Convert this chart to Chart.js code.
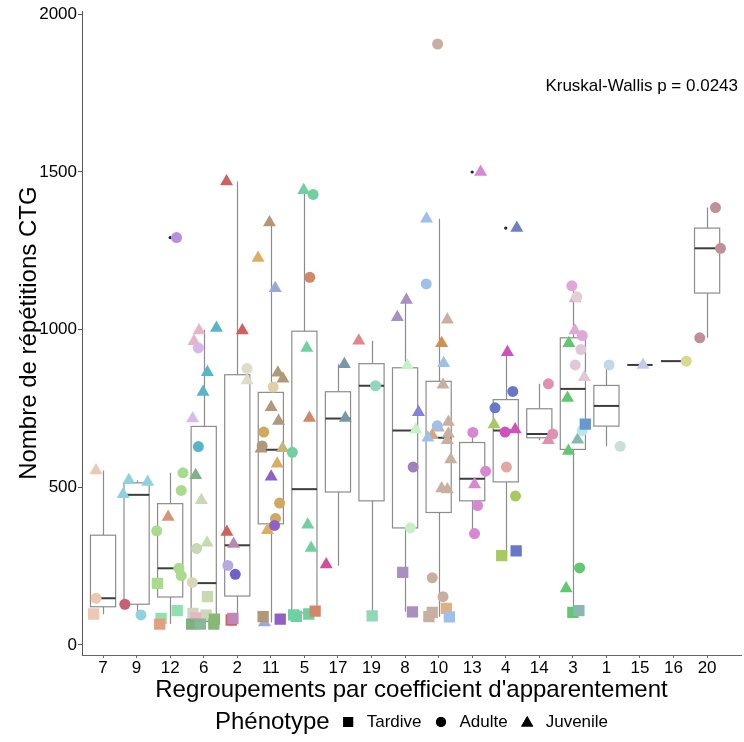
<!DOCTYPE html>
<html lang="fr">
<head>
<meta charset="UTF-8">
<title>Répétitions CTG par regroupement</title>
<script src="https://cdn.jsdelivr.net/npm/chart.js"></script>
<style>
  body { margin: 0; background: #fff; }
  canvas { display: block; }
</style>
</head>
<body>
<canvas id="ctgChart" width="744" height="742"></canvas>
<script>
// groupes (ordre de l'axe x) et graduations
const categories = ['7', '9', '12', '6', '2', '11', '5', '17', '19', '8', '10', '13', '4', '14', '3', '1', '15', '16', '20'];
const yTicks = [0, 500, 1000, 1500, 2000];

// statistiques des boîtes, une valeur par groupe
const boxLow    = [97,  95,  66,  66,  79,   71,   91,   251, 92,  105,  89,   353, 283, 649, 103,  630, 888, 900, 974];
const boxQ1     = [121, 129, 152, 74,  155,  384,  102,  485, 457, 371,  420,  457, 517, 657, 620,  694, 888, 900, 1116];
const boxMedian = [148, 476, 243, 196, 316,  619,  494,  718, 822, 680,  657,  527, 680, 669, 812,  758, 888, 900, 1258];
const boxQ3     = [348, 514, 448, 693, 857,  801,  995,  803, 892, 879,  836,  642, 778, 749, 974,  823, 888, 900, 1322];
const boxHigh   = [553, 522, 546, 1000, 1470, 1340, 1442, 890, 965, 1094, 1352, 668, 928, 828, 1139, 888, 888, 900, 1387];

// valeurs aberrantes
const outlierGroups = ['12', '10', '13', '4'];
const outlierValues = [1292, 1906, 1500, 1322];

// Tardive
const tardiveGroups = ['7', '12', '12', '12', '12', '6', '6', '6', '6', '6', '6', '6', '6', '2', '2', '11', '11',
  '5', '5', '5', '5', '19', '8', '8', '10', '10', '10', '10', '4', '4', '3', '3', '3'];
const tardiveValues = [98, 195, 109, 84, 66, 153, 100, 94, 86, 66, 66, 82, 66, 79, 84, 90, 82,
  95, 91, 98, 107, 92, 230, 105, 103, 90, 116, 89, 283, 298, 700, 103, 109];

// Adulte
const adulteGroups = ['7', '9', '9', '12', '12', '12', '12', '12', '12', '6', '6', '6', '6', '2', '2', '2',
  '11', '11', '11', '11', '11', '11', '5', '5', '5', '19', '8', '8', '10', '10', '10', '10', '10',
  '13', '13', '13', '13', '4', '4', '4', '4', '4', '14', '14', '3', '3', '3', '3', '3', '3', '3',
  '1', '1', '16', '20', '20', '20'];
const adulteValues = [148, 129, 95, 1292, 546, 490, 362, 243, 220, 942, 629, 306, 198, 877, 252, 224,
  818, 675, 631, 450, 401, 379, 1429, 1166, 611, 822, 564, 371, 1906, 1145, 695, 213, 153,
  674, 551, 442, 353, 804, 752, 675, 564, 472, 828, 669, 1139, 1104, 981, 937, 888, 680, 244,
  888, 630, 900, 1387, 1258, 974];

// Juvenile
const juvenileGroups = ['7', '9', '9', '9', '12', '6', '6', '6', '6', '6', '6', '6', '6', '6',
  '2', '2', '2', '2', '2', '11', '11', '11', '11', '11', '11', '11', '11', '11', '11', '11', '11', '11',
  '5', '5', '5', '5', '5', '17', '17', '17', '19', '8', '8', '8', '8', '8',
  '10', '10', '10', '10', '10', '10', '10', '10', '10', '10', '10', '10', '10', '10',
  '13', '13', '4', '4', '4', '4', '14', '3', '3', '3', '3', '3', '3', '3', '3', '15'];
const juvenileValues = [553, 522, 517, 478, 406, 997, 963, 1005, 865, 802, 718, 538, 459, 324,
  1470, 997, 839, 358, 320, 1340, 1227, 1131, 863, 844, 754, 710, 622, 624, 575, 533, 364, 71,
  1442, 942, 720, 381, 307, 890, 720, 255, 965, 1094, 1039, 886, 738, 683,
  1352, 1031, 957, 893, 825, 707, 689, 665, 657, 670, 649, 588, 496, 493,
  1500, 509, 1322, 928, 699, 683, 649, 1099, 997, 957, 849, 783, 651, 615, 179, 888];

// décalage horizontal (jitter) de chaque point, en unités de catégorie
const tardiveJitter = [-0.28, -0.38, 0.21, -0.27, -0.31, 0.11, -0.32, 0.07, -0.24, -0.36, -0.10, 0.32, 0.30, -0.18, -0.13, -0.23, 0.28,
  -0.32, -0.24, 0.13, 0.32, 0.02, -0.07, 0.22, -0.19, -0.29, 0.23, 0.32, -0.12, 0.31, 0.37, 0.0, 0.18];
const adulteJitter = [-0.21, -0.35, 0.13, 0.19, 0.38, 0.33, -0.40, 0.26, 0.33, -0.16, -0.16, -0.21, -0.34, 0.29, -0.28, -0.06,
  0.07, -0.21, -0.26, 0.26, 0.14, 0.11, 0.26, 0.16, -0.36, 0.12, 0.24, 0.16, -0.03, -0.37, -0.04, -0.19, 0.13,
  0.02, 0.40, 0.16, 0.07, 0.21, -0.32, -0.02, 0.02, 0.29, 0.27, 0.40, -0.03, 0.12, 0.28, 0.24, 0.07, 0.28, 0.20,
  0.08, 0.41, 0.38, 0.25, 0.40, -0.22];
const juvenileJitter = [-0.21, -0.23, 0.33, -0.40, -0.06, -0.14, -0.29, 0.38, 0.11, -0.02, -0.33, -0.24, -0.07, 0.10,
  -0.32, 0.15, 0.29, -0.31, -0.11, -0.04, -0.38, 0.13, 0.21, 0.36, 0.01, 0.23, -0.29, 0.35, 0.19, 0.01, -0.10, -0.19,
  -0.02, 0.07, 0.15, 0.10, 0.20, 0.19, 0.22, -0.35, -0.38, 0.04, -0.23, 0.07, 0.40, 0.32,
  -0.36, 0.26, 0.09, 0.15, 0.13, 0.29, -0.01, -0.19, -0.32, 0.29, 0.26, 0.36, 0.09, 0.26,
  0.25, 0.07, 0.33, 0.05, -0.35, 0.28, 0.27, 0.07, 0.06, -0.12, 0.34, -0.16, 0.14, -0.13, -0.20, 0.09];

// couleur de chaque point (une teinte par famille)
const tardiveColors = ['#ecc8b4', '#a8dc8c', '#90e0b0', '#90e0b0', '#e0a080', '#c8d8b0', '#ccd8b8', '#ccd8b8', '#e8b4c8',
  '#80b080', '#88b898', '#88b878', '#88b878', '#d06060', '#c088b8', '#b09878', '#9060c8',
  '#70d0a0', '#70d0a0', '#70d0a0', '#d08868', '#90d8b8', '#a890c0', '#a890c0', '#c8b0a0', '#c8b0a0', '#e0b080', '#a0c0e8',
  '#a8c860', '#6878c8', '#6898d0', '#60c870', '#88b8b0'];
const adulteColors = ['#ecc8b0', '#c86070', '#90d0e0', '#b890e0', '#a8dc8c', '#a8dc8c', '#a8dc8c', '#a8dc8c', '#a8dc8c',
  '#d8b8e8', '#58b4c8', '#c8d8b0', '#d8d8b8', '#e0dcc8', '#b8a8e0', '#7060c8',
  '#e0d0a8', '#d0a860', '#b09878', '#d0a860', '#d0a860', '#9060c8', '#70d0a0', '#d08868', '#70d0a0', '#90d8b8',
  '#a080b8', '#c8f0c8', '#c8b0a0', '#a0c0e8', '#a0c0e8', '#c8b0a0', '#c8b0a0',
  '#d888d0', '#d888d0', '#d888d0', '#d888d0', '#6878c8', '#6878c8', '#d050c0', '#e0a8a0', '#a8c860', '#e090b0', '#e090b0',
  '#e0a8d8', '#e0d0d4', '#e0a8d8', '#e0c8d8', '#e0c8d8', '#b8e8e8', '#60c870',
  '#c0d8e8', '#c8e0d8', '#d8d890', '#c09098', '#c09098', '#c09098'];
const juvenileColors = ['#ecc8b4', '#90d0e0', '#90d0e0', '#90d0e0', '#d89478',
  '#e8b4c8', '#e8b4c8', '#58b4c8', '#58b4c8', '#58b4c8', '#d8bce8', '#7fb08a', '#c8d8b0', '#c8d8b0',
  '#d06060', '#d06060', '#e0dcc8', '#d06060', '#b888b0',
  '#b09878', '#d8b060', '#98a8d8', '#b09878', '#b09878', '#b09878', '#b09878', '#b09878', '#c0b878', '#d8b060', '#9060c8', '#d8b060', '#98a8d8',
  '#70d0a0', '#70d0a0', '#d08868', '#70d0a0', '#70d0a0', '#7898a8', '#7898a8', '#d0509c', '#e08888',
  '#a890c0', '#a890c0', '#c8f0c8', '#8880d8', '#c8f0c8',
  '#a0c0e8', '#c8b0a0', '#d09050', '#a0c0e8', '#c8b0a0', '#c8b0a0', '#c8b0a0', '#d8a878', '#a0c0e8', '#c8b0a0', '#c8b0a0', '#c8b0a0', '#c8b0a0', '#c8b0a0',
  '#d888d0', '#d888d0', '#7080c8', '#d050c0', '#a8c860', '#d050c0', '#e090b0',
  '#e0a8d8', '#e0a8d8', '#60c870', '#e0c8d8', '#60c870', '#88b8b0', '#60c870', '#60c870', '#c8c8e8'];

const FONT = "'Liberation Sans', Arial, Helvetica, sans-serif";

function buildPoints(groups, values, jitter) {
    return groups.map((g, k) => ({ x: categories.indexOf(g) + jitter[k], y: values[k] }));
}

// boîtes à moustaches dessinées sous les points
const boxplotPlugin = {
    id: 'boxplots',
    beforeDatasetsDraw(chart) {
        const { ctx, scales: { x, y } } = chart;
        const half = 0.375;
        ctx.save();
        categories.forEach((cat, i) => {
            const cx = Math.round(x.getPixelForValue(i)) + 0.5;
            const left = x.getPixelForValue(i - half);
            const right = x.getPixelForValue(i + half);
            const yLo = y.getPixelForValue(boxLow[i]);
            const yQ1 = y.getPixelForValue(boxQ1[i]);
            const yMed = y.getPixelForValue(boxMedian[i]);
            const yQ3 = y.getPixelForValue(boxQ3[i]);
            const yHi = y.getPixelForValue(boxHigh[i]);

            ctx.strokeStyle = '#8c8c8c';
            ctx.lineWidth = 1.2;
            ctx.beginPath();
            ctx.moveTo(cx, yQ3); ctx.lineTo(cx, yHi);
            ctx.moveTo(cx, yQ1); ctx.lineTo(cx, yLo);
            ctx.stroke();

            ctx.fillStyle = '#ffffff';
            ctx.fillRect(left, yQ3, right - left, yQ1 - yQ3);
            ctx.strokeRect(left, yQ3, right - left, yQ1 - yQ3);

            ctx.strokeStyle = '#3d3d3d';
            ctx.lineWidth = 2;
            ctx.beginPath();
            ctx.moveTo(left, yMed); ctx.lineTo(right, yMed);
            ctx.stroke();
        });

        ctx.fillStyle = '#222';
        outlierGroups.forEach((g, k) => {
            const px = x.getPixelForValue(categories.indexOf(g));
            const py = y.getPixelForValue(outlierValues[k]);
            ctx.beginPath();
            ctx.arc(px, py, 1.6, 0, Math.PI * 2);
            ctx.fill();
        });
        ctx.restore();
    }
};

// légende horizontale sous le titre de l'axe x + texte du test
const extrasPlugin = {
    id: 'extras',
    afterDraw(chart) {
        const { ctx, chartArea, scales: { y } } = chart;
        ctx.save();

        ctx.fillStyle = '#000';
        ctx.font = `17px ${FONT}`;
        ctx.textAlign = 'right';
        ctx.textBaseline = 'middle';
        ctx.fillText('Kruskal-Wallis p = 0.0243', chartArea.right - 3, y.getPixelForValue(1772));

        const items = chart.data.datasets.map(ds => ({ label: ds.label, style: ds.pointStyle }));
        const titleFont = `24px ${FONT}`;
        const labelFont = `17px ${FONT}`;
        ctx.font = titleFont;
        const titleW = ctx.measureText('Phénotype').width;
        ctx.font = labelFont;
        const sym = 11, gapSym = 13, gapItem = 14;
        let total = titleW;
        items.forEach((it, k) => {
            it.w = ctx.measureText(it.label).width;
            total += (k === 0 ? gapSym : gapItem) + sym + gapSym + it.w;
        });
        let xPos = (chartArea.left + chartArea.right) / 2 - total / 2;
        const yPos = chart.height - 20;

        ctx.textAlign = 'left';
        ctx.font = titleFont;
        ctx.fillText('Phénotype', xPos, yPos);
        xPos += titleW;
        items.forEach((it, k) => {
            xPos += (k === 0 ? gapSym : gapItem);
            const r = it.style === 'circle' ? 5 : 7;
            Chart.helpers.drawPoint(ctx, { pointStyle: it.style, radius: r, rotation: 0, borderWidth: 0 }, xPos + sym / 2, it.style === 'triangle' ? yPos + 1 : yPos);
            ctx.fillStyle = '#000';
            ctx.fill();
            xPos += sym + gapSym;
            ctx.font = labelFont;
            ctx.fillText(it.label, xPos, yPos);
            xPos += it.w;
        });
        ctx.restore();
    }
};

const ctx = document.getElementById('ctgChart').getContext('2d');
new Chart(ctx, {
    type: 'scatter',
    data: {
        datasets: [
            {
                label: 'Tardive',
                data: buildPoints(tardiveGroups, tardiveValues, tardiveJitter),
                backgroundColor: tardiveColors,
                pointStyle: 'rect',
                pointRadius: 8,
                borderWidth: 0
            },
            {
                label: 'Adulte',
                data: buildPoints(adulteGroups, adulteValues, adulteJitter),
                backgroundColor: adulteColors,
                pointStyle: 'circle',
                pointRadius: 5.5,
                borderWidth: 0
            },
            {
                label: 'Juvenile',
                data: buildPoints(juvenileGroups, juvenileValues, juvenileJitter),
                backgroundColor: juvenileColors,
                pointStyle: 'triangle',
                pointRadius: 7.5,
                borderWidth: 0
            }
        ]
    },
    options: {
        responsive: false,
        animation: false,
        events: [],
        layout: { autoPadding: false, padding: { left: 0, right: 3, top: 10, bottom: 40 } },
        plugins: {
            legend: { display: false },
            tooltip: { enabled: false }
        },
        scales: {
            x: {
                type: 'linear',
                min: -0.627,
                max: 19.01,
                afterBuildTicks: scale => { scale.ticks = categories.map((c, i) => ({ value: i })); },
                afterFit: scale => {
                    scale.height = 47;
                    scale.paddingLeft = 0;
                    scale.paddingRight = 0;
                },
                ticks: {
                    autoSkip: false,
                    maxRotation: 0,
                    padding: 0,
                    color: '#000',
                    font: { family: FONT, size: 17 },
                    callback: (value, index) => categories[index]
                },
                grid: { drawOnChartArea: false, drawTicks: true, tickLength: 3, color: '#666' },
                border: { display: true, color: '#666', width: 1 },
                title: {
                    display: true,
                    text: "Regroupements par coefficient d'apparentement",
                    color: '#000',
                    font: { family: FONT, size: 24, lineHeight: 1 },
                    padding: 0
                }
            },
            y: {
                min: -32,
                max: 2010,
                afterBuildTicks: scale => { scale.ticks = yTicks.map(v => ({ value: v })); },
                afterFit: scale => { scale.width = 82; },
                ticks: {
                    padding: 1,
                    color: '#000',
                    font: { family: FONT, size: 17 },
                    callback: value => String(value)
                },
                grid: { drawOnChartArea: false, drawTicks: true, tickLength: 4, color: '#555' },
                border: { display: true, color: '#555', width: 1 },
                title: {
                    display: true,
                    text: 'Nombre de répétitions CTG',
                    color: '#000',
                    font: { family: FONT, size: 24, lineHeight: 1 },
                    padding: { top: 17, bottom: 0 }
                }
            }
        }
    },
    plugins: [boxplotPlugin, extrasPlugin]
});
</script>
</body>
</html>
